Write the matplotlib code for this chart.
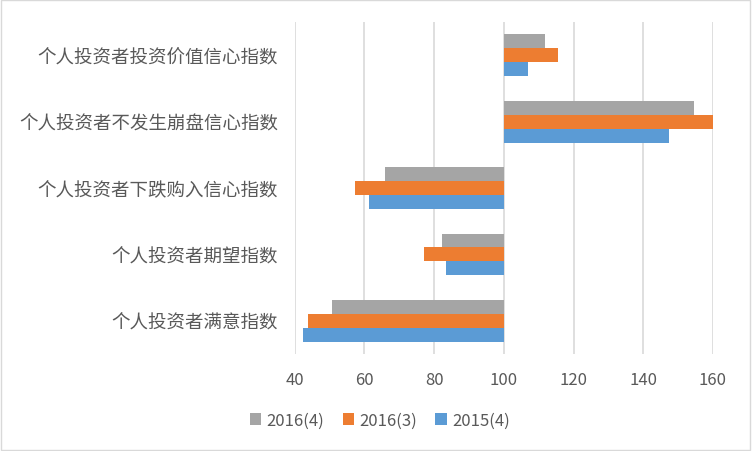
import matplotlib.pyplot as plt
from matplotlib.patches import Rectangle
import numpy as np

plt.rcParams["font.family"] = ["Noto Sans CJK SC", "DejaVu Sans"]

# 數據 (基準值 100)
categories = [
    "个人投资者满意指数",
    "个人投资者期望指数",
    "个人投资者下跌购入信心指数",
    "个人投资者不发生崩盘信心指数",
    "个人投资者投资价值信心指数",
]
s2016_4 = [50.8, 82.2, 65.9, 154.5, 111.9]
s2016_3 = [43.9, 77.1, 57.3, 159.9, 115.6]
s2015_4 = [42.5, 83.3, 61.3, 147.3, 106.8]
base = 100
xticks = [40, 60, 80, 100, 120, 140, 160]

text_color = "#595959"
fig = plt.figure(figsize=(7.52, 4.52), dpi=100)
ax = fig.add_axes([0.392, 0.2146, 0.556, 0.7344])

y = np.arange(len(categories))
h = 0.21
series = [
    ("2016(4)", s2016_4, "#A5A5A5", h),
    ("2016(3)", s2016_3, "#ED7D31", 0),
    ("2015(4)", s2015_4, "#5B9BD5", -h),
]
for name, vals, color, off in series:
    vals = np.array(vals)
    ax.barh(y + off, vals - base, left=base, height=h, color=color, label=name, zorder=3)

ax.set_xlim(40, 160)
ax.set_ylim(-0.5, len(categories) - 0.5)
ax.set_xticks(xticks)
ax.set_xticklabels([str(t) for t in xticks])
ax.set_yticks(y)
ax.set_yticklabels(categories)
ax.tick_params(axis="x", length=0, labelsize=12, colors=text_color, pad=12)
ax.tick_params(axis="y", length=0, labelsize=13.3, colors=text_color, pad=12)
ax.grid(axis="x", color="#D9D9D9", linewidth=1.2, zorder=0)
for sp in ax.spines.values():
    sp.set_visible(False)

leg = fig.legend(
    loc="center",
    bbox_to_anchor=(0.505, 0.068),
    ncol=3,
    frameon=False,
    fontsize=12,
    handlelength=0.7,
    handleheight=0.7,
    handletextpad=0.3,
    columnspacing=1.1,
)
for t in leg.get_texts():
    t.set_color(text_color)

# 外框
fig.patches.append(
    Rectangle((0.001, 0.002), 0.997, 0.996, transform=fig.transFigure,
              fill=False, edgecolor="#D9D9D9", linewidth=1)
)

fig.savefig("out.png", dpi=100)
